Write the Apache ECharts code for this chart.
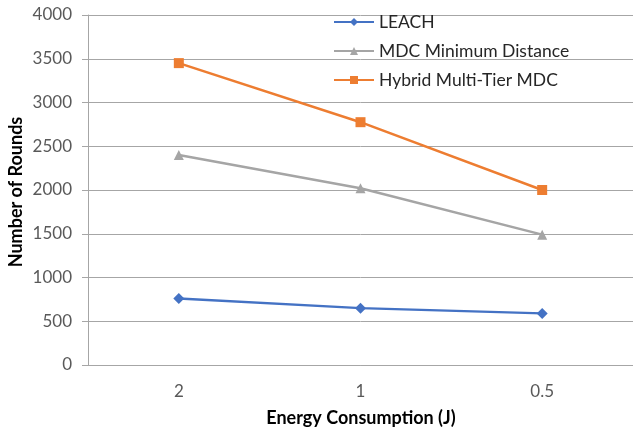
<!DOCTYPE html>
<html>
<head>
<meta charset="utf-8">
<script src="https://cdn.jsdelivr.net/npm/echarts@6/dist/echarts.min.js"></script>
<style>html,body{margin:0;padding:0;background:#fff;}#c{width:633px;height:433px;}</style>
</head>
<body>
<div id="c"></div>
<script>
const categories = ['2', '1', '0.5'];
const leach = [760, 650, 590];
const mdcMin = [2400, 2020, 1490];
const hybrid = [3450, 2775, 2000];
const yTicks = { min: 0, max: 4000, interval: 500 };

const FONT = 'Lato';
const chart = echarts.init(document.getElementById('c'), null, { renderer: 'canvas' });
chart.setOption({
  animation: false,
  backgroundColor: '#fff',
  grid: { left: 88, width: 548, top: 15, height: 350, containLabel: false },
  legend: {
    orient: 'vertical', left: 328, top: 8, itemWidth: 40, itemHeight: 10, itemGap: 11,
    textStyle: { fontFamily: FONT, fontSize: 17.5, color: '#262626' },
    data: ['LEACH', 'MDC Minimum Distance', 'Hybrid Multi-Tier MDC']
  },
  xAxis: {
    type: 'category', data: categories, boundaryGap: true,
    axisLine: { lineStyle: { color: '#A6A6A6', width: 1 } },
    axisTick: { show: false },
    axisLabel: { fontFamily: FONT, fontSize: 17, color: '#595959', margin: 18 },
    splitLine: { show: false }
  },
  yAxis: {
    type: 'value', min: yTicks.min, max: yTicks.max, interval: yTicks.interval,
    axisLine: { show: true, lineStyle: { color: '#A6A6A6', width: 1 } },
    axisTick: { show: true, length: 6, inside: false, lineStyle: { color: '#A6A6A6' } },
    axisLabel: { fontFamily: FONT, fontSize: 17, color: '#595959', margin: 16, formatter: v => String(v) },
    splitLine: { lineStyle: { color: '#A6A6A6', width: 1 } }
  },
  graphic: [
    { type: 'text', style: { text: 'Number of Rounds', font: 'bold 18px ' + FONT, fill: '#000', textAlign: 'center', textVerticalAlign: 'middle' }, x: 16, y: 192, rotation: Math.PI / 2 },
    { type: 'text', style: { text: 'Energy Consumption (J)', font: 'bold 18px ' + FONT, fill: '#000', textAlign: 'center', textVerticalAlign: 'middle' }, x: 361, y: 418 }
  ],
  series: [
    { name: 'LEACH', type: 'line', data: leach, symbol: 'diamond', symbolSize: 11,
      lineStyle: { color: '#4472C4', width: 2.5 }, itemStyle: { color: '#4472C4' } },
    { name: 'MDC Minimum Distance', type: 'line', data: mdcMin, symbol: 'triangle', symbolSize: 10,
      lineStyle: { color: '#A5A5A5', width: 2.5 }, itemStyle: { color: '#A5A5A5' } },
    { name: 'Hybrid Multi-Tier MDC', type: 'line', data: hybrid, symbol: 'rect', symbolSize: 10,
      lineStyle: { color: '#ED7D31', width: 2.5 }, itemStyle: { color: '#ED7D31' } }
  ]
});
</script>
</body>
</html>
